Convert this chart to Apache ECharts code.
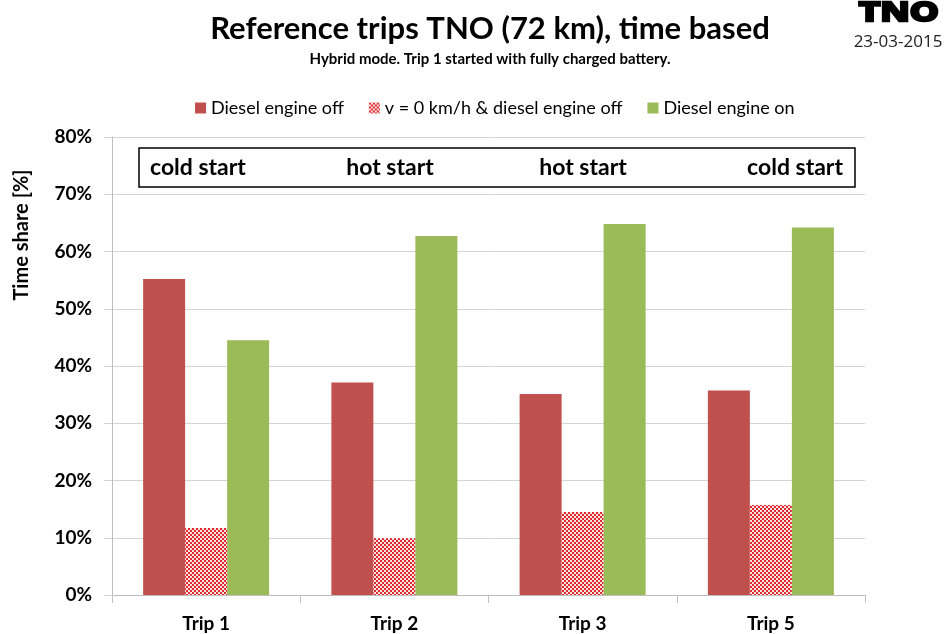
<!DOCTYPE html>
<html>
<head>
<meta charset="utf-8">
<script src="https://cdn.jsdelivr.net/npm/echarts@6/dist/echarts.min.js"></script>
<style>html,body{margin:0;padding:0;background:#fff}#c{width:952px;height:634px}</style>
</head>
<body>
<div id="c"></div>
<script>
const categories = ['Trip 1', 'Trip 2', 'Trip 3', 'Trip 5'];
const engineOff = [55.2, 37.1, 35.1, 35.7];
const standstillOff = [11.7, 9.9, 14.5, 15.7];
const engineOn = [44.5, 62.7, 64.8, 64.2];
const yTicks = [0, 10, 20, 30, 40, 50, 60, 70, 80];
const startLabels = ['cold start', 'hot start', 'hot start', 'cold start'];

const FONT = 'Lato, "Open Sans", sans-serif';

// checkered pattern
const pc = document.createElement('canvas');
pc.width = 4; pc.height = 4;
const pctx = pc.getContext('2d');
pctx.fillStyle = '#fbe3e3';
pctx.fillRect(0, 0, 4, 4);
pctx.fillStyle = '#dd2a2f';
pctx.fillRect(0, 0, 2, 2);
pctx.fillRect(2, 2, 2, 2);
const checker = { image: pc, repeat: 'repeat' };

const chart = echarts.init(document.getElementById('c'), null, { renderer: 'canvas' });
const option = {
  animation: false,
  backgroundColor: '#fff',
  title: {
    text: 'Reference trips TNO (72 km), time based',
    subtext: 'Hybrid mode. Trip 1 started with fully charged battery.',
    left: 485, textAlign: 'center', top: 8, itemGap: 8,
    textStyle: { fontFamily: FONT, fontWeight: 'bold', fontSize: 31, color: '#000' },
    subtextStyle: { fontFamily: FONT, fontWeight: 'bold', fontSize: 15, color: '#000' }
  },
  legend: {
    left: 190, top: 94,
    itemWidth: 11, itemHeight: 11, itemGap: 25,
    textStyle: { fontFamily: FONT, fontSize: 18, color: '#000' },
    data: [
      { name: 'Diesel engine off', icon: 'rect' },
      { name: 'v = 0 km/h & diesel engine off', icon: 'rect' },
      { name: 'Diesel engine on', icon: 'rect' }
    ]
  },
  grid: { left: 112, right: 87, top: 137, bottom: 39 },
  xAxis: {
    type: 'category', data: categories,
    axisLine: { lineStyle: { color: '#bfbfbf', width: 1 } },
    axisTick: { show: true, length: 8, lineStyle: { color: '#bfbfbf' } },
    axisLabel: { margin: 19, fontFamily: FONT, fontWeight: 'bold', fontSize: 19, color: '#000' }
  },
  yAxis: {
    type: 'value', min: 0, max: 80, interval: 10,
    axisLine: { show: true, lineStyle: { color: '#bfbfbf' } },
    axisTick: { show: true, length: 8, lineStyle: { color: '#d4d4d4' } },
    splitLine: { lineStyle: { color: '#d4d4d4', width: 1 } },
    axisLabel: { margin: 20, fontFamily: FONT, fontWeight: 'bold', fontSize: 19, color: '#000',
      formatter: v => (yTicks.indexOf(v) >= 0 ? v + '%' : '') }
  },
  series: [
    { name: 'Diesel engine off', type: 'bar', data: engineOff, barWidth: 42, barGap: '0%',
      itemStyle: { color: '#c0504d' } },
    { name: 'v = 0 km/h & diesel engine off', type: 'bar', data: standstillOff, barWidth: 42, barGap: '0%',
      itemStyle: { color: checker } },
    { name: 'Diesel engine on', type: 'bar', data: engineOn, barWidth: 42, barGap: '0%',
      itemStyle: { color: '#9bbb59' } }
  ],
  graphic: [
    { type: 'text', x: 22, y: 235, rotation: Math.PI / 2, silent: true,
      style: { text: 'Time share [%]', align: 'center', verticalAlign: 'middle', fontFamily: FONT, fontWeight: 'bold', fontSize: 20, fill: '#000' } },
    { type: 'rect', shape: { x: 139, y: 148, width: 716, height: 39 },
      style: { fill: '#fff', stroke: '#000', lineWidth: 1.5 }, z: 10 },
    { type: 'text', x: 150, y: 168, z: 11, style: { text: startLabels[0], align: 'left', verticalAlign: 'middle', fontFamily: FONT, fontWeight: 'bold', fontSize: 23, fill: '#000' } },
    { type: 'text', x: 390, y: 168, z: 11, style: { text: startLabels[1], align: 'center', verticalAlign: 'middle', fontFamily: FONT, fontWeight: 'bold', fontSize: 23, fill: '#000' } },
    { type: 'text', x: 583, y: 168, z: 11, style: { text: startLabels[2], align: 'center', verticalAlign: 'middle', fontFamily: FONT, fontWeight: 'bold', fontSize: 23, fill: '#000' } },
    { type: 'text', x: 843, y: 168, z: 11, style: { text: startLabels[3], align: 'right', verticalAlign: 'middle', fontFamily: FONT, fontWeight: 'bold', fontSize: 23, fill: '#000' } },
    { type: 'text', x: 899, y: 13, scaleX: 1.35, z: 11, style: { text: 'TNO', align: 'center', verticalAlign: 'middle', fontFamily: '"Open Sans", Lato, sans-serif', fontWeight: 'bold', fontSize: 27, fill: '#000', stroke: '#000', lineWidth: 2.5 } },
    { type: 'text', x: 898, y: 42, z: 11, style: { text: '23-03-2015', align: 'center', verticalAlign: 'middle', fontFamily: '"Open Sans", sans-serif', fontSize: 17, fill: '#222' } }
  ]
};
chart.setOption(option);
</script>
</body>
</html>
